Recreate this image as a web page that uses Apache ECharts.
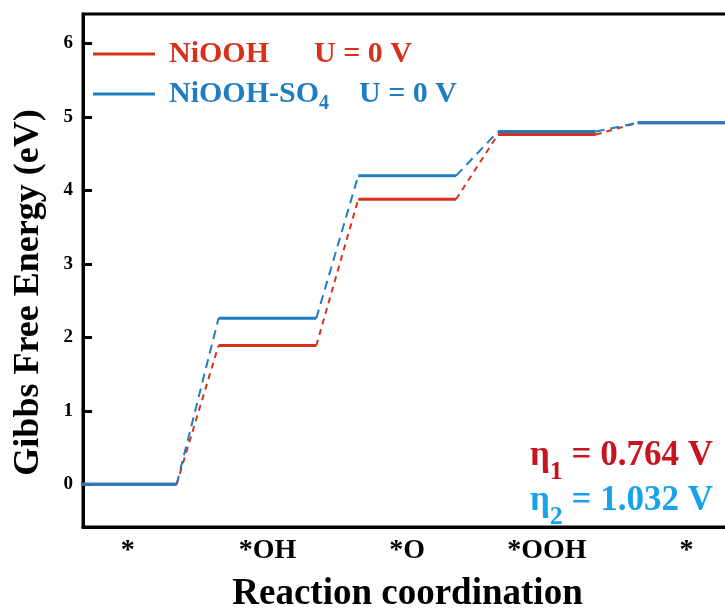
<!DOCTYPE html>
<html>
<head>
<meta charset="utf-8">
<script src="https://cdn.jsdelivr.net/npm/echarts@6/dist/echarts.min.js"></script>
<style>html,body{margin:0;padding:0;background:#fff}#main{width:725px;height:612px}</style>
</head>
<body>
<div id="main"></div>
<script>
// free energy of each intermediate (eV), U = 0 V
var steps = ['*', '*OH', '*O', '*OOH', '*'];
var niooh = [0, 1.89, 3.88, 4.76, 4.92];
var nioohSO4 = [0, 2.26, 4.20, 4.80, 4.92];
var yTicks = [0, 1, 2, 3, 4, 5, 6];
var eta = ['0.764', '1.032'];

var RED = '#d9301c', BLUE = '#1f7dc2';
var FONT = '"Liberation Serif", "Times New Roman", serif';
var half = 0.35; // half width of a level

function levels(e) {
  var d = [];
  e.forEach(function (v, i) {
    d.push([i - half, v], [i + half, v], ['-', '-']);
  });
  return d;
}
function links(e) {
  var d = [];
  for (var i = 0; i < e.length - 1; i++) {
    d.push([i + half, e[i]], [i + 1 - half, e[i + 1]], ['-', '-']);
  }
  return d;
}

// tall line + bottom aligned small token = subscript
function etaText(i, color) {
  return {
    text: '{e|η}{s|' + (i + 1) + '}{e| = ' + eta[i] + ' V}',
    rich: {
      e: { fill: color, font: 'bold 35px ' + FONT, lineHeight: 60 },
      s: { fill: color, font: 'bold 26px ' + FONT, verticalAlign: 'bottom' }
    }
  };
}

var myChart = echarts.init(document.getElementById('main'));
var option = {
  animation: false,
  grid: {
    left: 83, right: -7, top: 14, bottom: 85,
    outerBoundsMode: 'none',
    show: true, borderColor: '#000', borderWidth: 3
  },
  legend: {
    data: ['NiOOH', 'NiOOH-SO4'],
    orient: 'vertical',
    left: 88, top: 29,
    icon: 'rect', itemWidth: 62, itemHeight: 3, itemGap: 0,
    textStyle: {
      fontFamily: FONT, fontWeight: 'bold', fontSize: 30, lineHeight: 40,
      padding: [0, 0, 0, 9],
      rich: {
        r: { color: RED, fontFamily: FONT, fontWeight: 'bold', fontSize: 30, lineHeight: 40 },
        b: { color: BLUE, fontFamily: FONT, fontWeight: 'bold', fontSize: 30, lineHeight: 40 },
        bs: { color: BLUE, fontFamily: FONT, fontWeight: 'bold', fontSize: 20, verticalAlign: 'bottom' }
      }
    },
    formatter: function (name) {
      if (name === 'NiOOH') return '{r|NiOOH      U = 0 V}';
      return '{b|NiOOH-SO}{bs|4}{b|    U = 0 V}';
    }
  },
  xAxis: {
    type: 'value', min: -0.32, max: 4.325,
    name: 'Reaction coordination', nameLocation: 'middle', nameGap: 49,
    nameTextStyle: { fontFamily: FONT, fontWeight: 'bold', fontSize: 37, color: '#000' },
    axisLine: { show: true, onZero: false, lineStyle: { color: '#000', width: 3 } },
    axisTick: { show: false },
    splitLine: { show: false },
    axisLabel: {
      customValues: [0, 1, 2, 3, 4],
      formatter: function (v) { return steps[Math.round(v)]; },
      fontFamily: FONT, fontWeight: 'bold', fontSize: 28, color: '#000', margin: 10
    }
  },
  yAxis: {
    type: 'value', min: -0.58, max: 6.40,
    name: 'Gibbs Free Energy (eV)', nameLocation: 'middle', nameGap: 36,
    nameTextStyle: { fontFamily: FONT, fontWeight: 'bold', fontSize: 36, color: '#000', padding: [0, 44, 0, 0] },
    axisLine: { show: true, onZero: false, lineStyle: { color: '#000', width: 3 } },
    axisTick: { show: true, inside: true, length: 9, customValues: yTicks, lineStyle: { color: '#000', width: 3 } },
    splitLine: { show: false },
    axisLabel: {
      customValues: yTicks,
      fontFamily: FONT, fontWeight: 'bold', fontSize: 19, color: '#000', margin: 10
    }
  },
  graphic: [
    { type: 'text', right: 12, top: 438, style: etaText(0, '#c8141e') },
    { type: 'text', right: 12, top: 483, style: etaText(1, '#18a2ee') }
  ],
  series: [
    { name: 'NiOOH', type: 'line', data: levels(niooh), symbol: 'none', z: 3,
      itemStyle: { color: RED }, lineStyle: { color: RED, width: 3 } },
    { name: 'NiOOH-SO4', type: 'line', data: levels(nioohSO4), symbol: 'none', z: 4,
      itemStyle: { color: BLUE }, lineStyle: { color: BLUE, width: 3 } },
    { type: 'line', data: links(niooh), symbol: 'none', silent: true, z: 2,
      lineStyle: { color: RED, width: 2, type: [6, 5] } },
    { type: 'line', data: links(nioohSO4), symbol: 'none', silent: true, z: 2,
      lineStyle: { color: BLUE, width: 2, type: [9, 6] } }
  ]
};
myChart.setOption(option);

window.onresize = function () {
  myChart.resize();
};
</script>
</body>
</html>
